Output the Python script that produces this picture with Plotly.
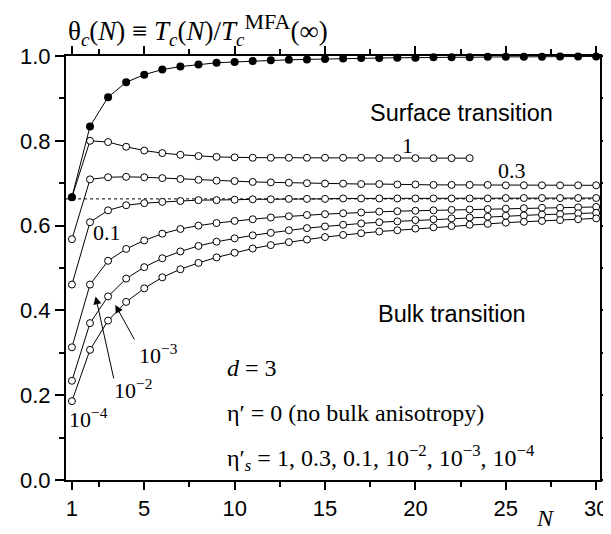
import plotly.graph_objects as go

N = list(range(1, 31))
N_eta1 = list(range(1, 24))

theta_filled = [0.667, 0.834, 0.903, 0.938, 0.956, 0.968, 0.975, 0.980, 0.984, 0.986,
                0.988, 0.990, 0.991, 0.992, 0.993, 0.994, 0.995, 0.995, 0.996, 0.996,
                0.997, 0.997, 0.997, 0.998, 0.998, 0.998, 0.998, 0.999, 0.999, 0.999]
theta_1 = [0.667, 0.800, 0.797, 0.786, 0.777, 0.771, 0.767, 0.764, 0.762, 0.761,
           0.760, 0.760, 0.760, 0.760, 0.760, 0.760, 0.760, 0.759, 0.759, 0.759,
           0.759, 0.759, 0.759]
theta_03 = [0.568, 0.709, 0.714, 0.715, 0.714, 0.712, 0.710, 0.708, 0.706, 0.705,
            0.703, 0.702, 0.701, 0.700, 0.699, 0.699, 0.698, 0.698, 0.697, 0.697,
            0.696, 0.696, 0.696, 0.696, 0.695, 0.695, 0.695, 0.695, 0.695, 0.695]
theta_01 = [0.461, 0.608, 0.636, 0.648, 0.653, 0.656, 0.658, 0.660, 0.660, 0.661,
            0.662, 0.662, 0.663, 0.663, 0.663, 0.664, 0.664, 0.664, 0.664, 0.664,
            0.664, 0.664, 0.664, 0.664, 0.665, 0.665, 0.665, 0.665, 0.665, 0.665]
theta_1em2 = [0.313, 0.461, 0.517, 0.545, 0.565, 0.581, 0.592, 0.600, 0.606, 0.611,
              0.615, 0.619, 0.622, 0.625, 0.627, 0.629, 0.631, 0.633, 0.634, 0.635,
              0.636, 0.637, 0.638, 0.639, 0.640, 0.641, 0.642, 0.642, 0.643, 0.644]
theta_1em3 = [0.234, 0.370, 0.433, 0.475, 0.502, 0.523, 0.539, 0.552, 0.562, 0.570,
              0.577, 0.583, 0.589, 0.594, 0.598, 0.602, 0.605, 0.608, 0.610, 0.613,
              0.615, 0.617, 0.619, 0.621, 0.623, 0.624, 0.626, 0.627, 0.629, 0.630]
theta_1em4 = [0.186, 0.307, 0.376, 0.420, 0.452, 0.478, 0.497, 0.512, 0.525, 0.536,
              0.546, 0.554, 0.561, 0.567, 0.573, 0.578, 0.582, 0.586, 0.589, 0.593,
              0.596, 0.599, 0.602, 0.604, 0.607, 0.609, 0.611, 0.613, 0.615, 0.617]

dotted_level = 0.663

x_ticks = [1, 5, 10, 15, 20, 25, 30]
x_minor = [2.5, 7.5, 12.5, 17.5, 22.5, 27.5]
y_ticks = [0.0, 0.2, 0.4, 0.6, 0.8, 1.0]
y_tick_text = ["0.0", "0.2", "0.4", "0.6", "0.8", "1.0"]
y_minor = [0.1, 0.3, 0.5, 0.7, 0.9]

SERIF = "Times New Roman, Liberation Serif, serif"
SANS = "Arial, Liberation Sans, sans-serif"

fig = go.Figure()

fig.add_shape(type="line", xref="paper", x0=0, x1=1, yref="y", y0=dotted_level, y1=dotted_level,
              line=dict(color="black", width=1, dash="dot"), layer="below")

open_series = [(N_eta1, theta_1), (N, theta_03), (N, theta_01),
               (N, theta_1em2), (N, theta_1em3), (N, theta_1em4)]
for xs, ys in open_series:
    fig.add_trace(go.Scatter(x=xs, y=ys, mode="lines+markers",
                             line=dict(color="black", width=1),
                             marker=dict(symbol="circle", size=7, color="white",
                                         line=dict(color="black", width=1)),
                             showlegend=False, cliponaxis=False))

fig.add_trace(go.Scatter(x=N, y=theta_filled, mode="lines+markers",
                         line=dict(color="black", width=1),
                         marker=dict(symbol="circle", size=8, color="black"),
                         showlegend=False, cliponaxis=False))

anns = []
def txt(x, y, s, font, size=22, xanchor="center", yanchor="middle", xref="x", yref="y"):
    anns.append(dict(x=x, y=y, xref=xref, yref=yref, text=s, showarrow=False,
                     xanchor=xanchor, yanchor=yanchor,
                     font=dict(family=font, size=size, color="black")))

# curve labels
txt(19.54, 0.790, "1", SERIF)
txt(25.33, 0.731, "0.3", SERIF)
txt(2.95, 0.583, "0.1", SERIF)
txt(5.77, 0.297, "10<sup>−3</sup>", SERIF)
txt(4.36, 0.215, "10<sup>−2</sup>", SERIF)
txt(1.92, 0.146, "10<sup>−4</sup>", SERIF)

txt(22.57, 0.866, "Surface transition", SANS, size=23.5)
txt(22.0, 0.392, "Bulk transition", SANS, size=23.5)

txt(9.45, 0.264, "<i>d</i> = 3", SERIF, size=24, xanchor="left")
txt(9.45, 0.158, "η′ = 0 (no bulk anisotropy)", SERIF, size=24, xanchor="left")
txt(9.45, 0.052, "η′<sub><i>s</i></sub> = 1, 0.3, 0.1, 10<sup>−2</sup>, 10<sup>−3</sup>, 10<sup>−4</sup>",
    SERIF, size=24, xanchor="left")

txt(27.2, -0.126, "<i>N</i>", SERIF, size=24, yref="paper", yanchor="bottom")
txt(0.0, 1.062,
    "θ<sub><i>c</i></sub>(<i>N</i>) ≡ <i>T<sub>c</sub></i>(<i>N</i>)/<i>T</i><sub><i>c</i></sub>"
    "<sup><span style='font-size:22px'>MFA</span></sup>(∞)",
    SERIF, size=27, xanchor="left", xref="paper", yref="paper")

# arrows
arrow_specs = [((2.31, 0.433), (3.33, 0.236)), ((3.40, 0.413), (4.50, 0.328))]
for (hx, hy), (tx, ty) in arrow_specs:
    anns.append(dict(x=hx, y=hy, ax=tx, ay=ty, xref="x", yref="y", axref="x", ayref="y",
                     text="", showarrow=True, arrowhead=2, arrowsize=1.6, arrowwidth=1,
                     arrowcolor="black"))

fig.update_layout(
    width=611, height=534,
    margin=dict(l=58, r=8, t=48, b=62),
    paper_bgcolor="white", plot_bgcolor="white",
    annotations=anns,
    xaxis=dict(range=[0.672, 30.21], tickmode="array", tickvals=x_ticks,
               ticks="outside", ticklen=8, tickwidth=2, tickcolor="black",
               showline=True, linewidth=2, linecolor="black", mirror="ticks",
               showgrid=False, zeroline=False,
               tickfont=dict(family=SANS, size=22, color="black"),
               minor=dict(tickmode="array", tickvals=x_minor, ticks="outside",
                          ticklen=5, tickwidth=2, tickcolor="black", showgrid=False)),
    yaxis=dict(range=[0, 1.0], tickmode="array", tickvals=y_ticks, ticktext=y_tick_text,
               ticks="outside", ticklen=9, tickwidth=2, tickcolor="black",
               showline=True, linewidth=2, linecolor="black", mirror="ticks",
               showgrid=False, zeroline=False,
               tickfont=dict(family=SANS, size=22, color="black"),
               minor=dict(tickmode="array", tickvals=y_minor, ticks="outside",
                          ticklen=5, tickwidth=2, tickcolor="black", showgrid=False)),
)

fig.write_html("out.html")
